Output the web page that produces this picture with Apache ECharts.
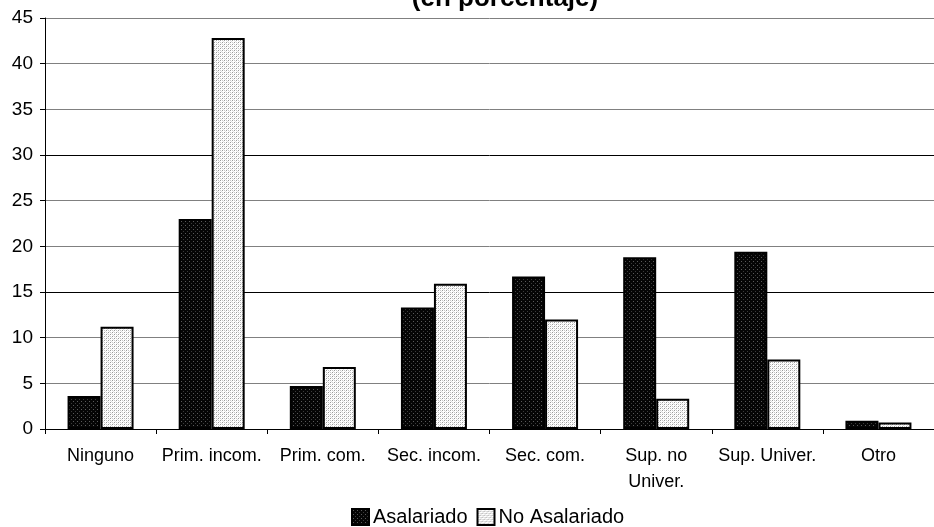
<!DOCTYPE html>
<html>
<head>
<meta charset="utf-8">
<script src="https://cdn.jsdelivr.net/npm/echarts@6/dist/echarts.min.js"></script>
<style>
  html, body { margin: 0; padding: 0; background: #fff; }
  #chart { width: 934px; height: 527px; }
</style>
</head>
<body>
<div id="chart"></div>
<script>
// Nivel educativo por condición de empleo (en porcentaje)
const categories = ['Ninguno', 'Prim. incom.', 'Prim. com.', 'Sec. incom.', 'Sec. com.', 'Sup. no\nUniver.', 'Sup. Univer.', 'Otro'];
const seriesNames = ['Asalariado', 'No Asalariado'];
const asalariado = [3.6, 23.0, 4.7, 13.3, 16.7, 18.8, 19.4, 0.9];
const noAsalariado = [11.2, 42.8, 6.8, 15.9, 12.0, 3.3, 7.6, 0.7];
const yTicks = { min: 0, max: 45, interval: 5 };

const FONT = "'Liberation Sans', Arial, sans-serif";

// Small tiled canvases used as dotted fills for the bars
function makePattern(bg, dots) {
  const c = document.createElement('canvas');
  c.width = 4; c.height = 4;
  const g = c.getContext('2d');
  g.fillStyle = bg;
  g.fillRect(0, 0, 4, 4);
  dots.forEach(([x, y, col]) => { g.fillStyle = col; g.fillRect(x, y, 1, 1); });
  return { image: c, repeat: 'repeat' };
}
const darkFill = makePattern('#050505', [[1, 1, '#5a5a5a'], [3, 3, '#3a3a3a']]);
const lightFill = makePattern('#ffffff', [[0, 0, '#9a9a9a'], [2, 2, '#9a9a9a'], [2, 0, '#c8c8c8'], [0, 2, '#c8c8c8'], [1, 3, '#e0e0e0'], [3, 1, '#e0e0e0']]);

const chart = echarts.init(document.getElementById('chart'), null, { renderer: 'canvas' });

chart.setOption({
  animation: false,
  backgroundColor: '#ffffff',
  title: {
    text: '(en porcentaje)',
    left: 500,
    top: -19,
    textAlign: 'center',
    textStyle: { fontFamily: FONT, fontSize: 26, fontWeight: 'bold', color: '#000' }
  },
  grid: { left: 45, right: -11, top: 18, bottom: 98, containLabel: false },
  legend: {
    data: seriesNames,
    left: 346,
    top: 502,
    itemWidth: 17,
    itemHeight: 16,
    itemGap: 9,
    icon: 'rect',
    textStyle: { fontFamily: FONT, fontSize: 20, color: '#000', padding: [0, 0, 0, -1] }
  },
  xAxis: {
    type: 'category',
    data: categories,
    boundaryGap: true,
    axisLine: { lineStyle: { color: '#000', width: 1 } },
    axisTick: { show: true, length: 5, lineStyle: { color: '#000' } },
    axisLabel: { fontFamily: FONT, fontSize: 18, color: '#000', margin: 14, lineHeight: 26, interval: 0 },
    splitLine: { show: false }
  },
  yAxis: {
    type: 'value',
    min: yTicks.min,
    max: yTicks.max,
    interval: yTicks.interval,
    axisLine: { show: true, lineStyle: { color: '#000', width: 1 } },
    axisTick: { show: true, length: 5, lineStyle: { color: '#000' } },
    axisLabel: { fontFamily: FONT, fontSize: 19, color: '#000', margin: 12 },
    splitLine: {
      show: true,
      lineStyle: {
        width: 1,
        color: ['#000', '#808080', '#808080', '#000', '#808080', '#808080', '#000', '#808080', '#808080', '#808080']
      }
    }
  },
  series: [
    {
      name: seriesNames[0],
      type: 'bar',
      data: asalariado,
      barWidth: 33,
      barGap: '0%',
      itemStyle: { color: darkFill, borderColor: '#000', borderWidth: 2 }
    },
    {
      name: seriesNames[1],
      type: 'bar',
      data: noAsalariado,
      barWidth: 33,
      barGap: '0%',
      itemStyle: { color: lightFill, borderColor: '#000', borderWidth: 2 }
    }
  ]
});
</script>
</body>
</html>
